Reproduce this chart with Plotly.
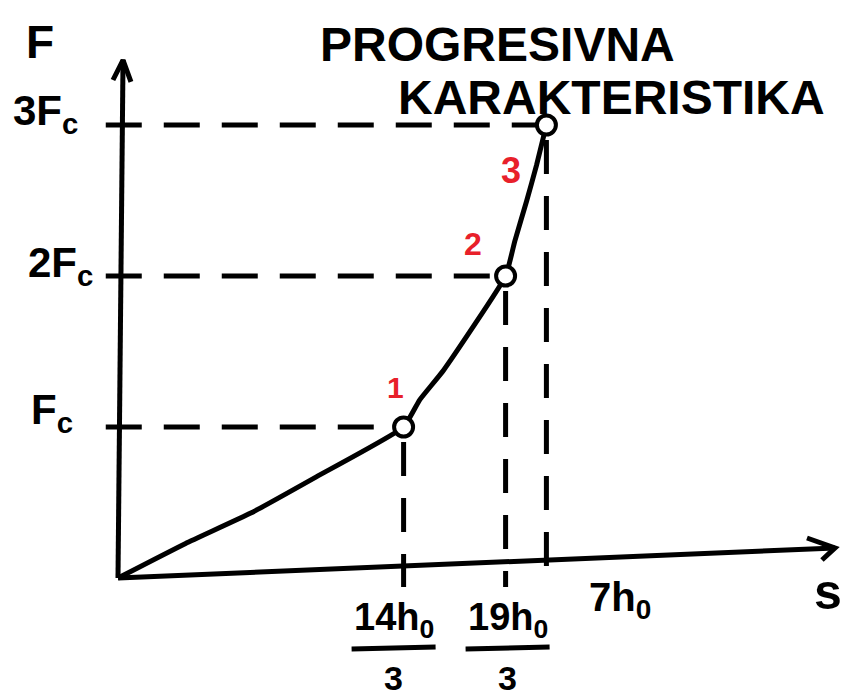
import plotly.graph_objects as go

# Key points of the progressive spring characteristic (s in h0, F in Fc)
s_points = [14 / 3, 19 / 3, 7]
F_points = [1, 2, 3]
point_tags = ["1", "2", "3"]

# Hand-sketched curve through the origin and the three key points
curve_s = [0, 1.105, 2.17, 3.24, 14 / 3, 4.93, 5.32, 19 / 3, 6.484, 6.677, 6.839, 7]
curve_F = [0, 0.229, 0.43, 0.67, 1, 1.18, 1.376, 2, 2.231, 2.497, 2.734, 3]

# Axis tick labels
s_numerators = ["14h<sub>0</sub>", "19h<sub>0</sub>", "7h<sub>0</sub>"]
s_denominators = ["3", "3", ""]
F_labels = ["F<sub>c</sub>", "2F<sub>c</sub>", "3F<sub>c</sub>"]

title_lines = ["PROGRESIVNA", "KARAKTERISTIKA"]

INK = "#000000"
RED = "#e8202a"
FONT = "Liberation Sans"
PX_X = 61.2   # pixels per h0
PX_Y = 151.0  # pixels per Fc
W, H = 848, 700
X0, Y0 = 118, 578  # origin in pixels


def txt(size, color=INK):
    return dict(family=FONT, size=size, color=color, weight="bold")


fig = go.Figure()

# dashed guides from each point to both axes
for s, F in zip(s_points, F_points):
    fig.add_trace(go.Scatter(x=[-0.2, s], y=[F, F], mode="lines",
                             line=dict(color=INK, width=5, dash="36px,22px"),
                             hoverinfo="skip", showlegend=False))
    fig.add_trace(go.Scatter(x=[s, s], y=[F - 0.1, -0.06], mode="lines",
                             line=dict(color=INK, width=5, dash="34px,22px"),
                             hoverinfo="skip", showlegend=False))

# axes with open arrow heads
fig.add_trace(go.Scatter(x=[0, 0.082], y=[0, 3.43], mode="lines",
                         line=dict(color=INK, width=5), hoverinfo="skip", showlegend=False))
fig.add_trace(go.Scatter(x=[-0.082, 0.082, 0.212], y=[3.298, 3.43, 3.285], mode="lines",
                         line=dict(color=INK, width=5), hoverinfo="skip", showlegend=False))
fig.add_trace(go.Scatter(x=[0, 11.716], y=[0, 0.199], mode="lines",
                         line=dict(color=INK, width=5), hoverinfo="skip", showlegend=False))
fig.add_trace(go.Scatter(x=[11.258, 11.716, 11.503], y=[0.265, 0.199, 0.119], mode="lines",
                         line=dict(color=INK, width=5), hoverinfo="skip", showlegend=False))

# characteristic curve
fig.add_trace(go.Scatter(x=curve_s, y=curve_F, mode="lines",
                         line=dict(color=INK, width=5, shape="spline", smoothing=0.4),
                         hoverinfo="skip", showlegend=False))

# key points
fig.add_trace(go.Scatter(x=s_points, y=F_points, mode="markers",
                         marker=dict(symbol="circle", size=19, color="white",
                                     line=dict(color=INK, width=4)),
                         hoverinfo="skip", showlegend=False))

ann = []


def note(**kw):
    kw.setdefault("showarrow", False)
    kw.setdefault("xanchor", "center")
    kw.setdefault("yanchor", "middle")
    ann.append(kw)


# point numbers
tag_shift = [(-8, 40), (-33, 32), (-35, -45)]
tag_size = [30, 32, 36]
for s, F, t, (dx, dy), sz in zip(s_points, F_points, point_tags, tag_shift, tag_size):
    note(x=s, y=F, text=t, xshift=dx, yshift=dy, font=txt(sz, RED))

# F-axis tick labels
F_shift = [(-43, 15), (-23, 11), (-38, 12)]
for F, lab, (dx, dy) in zip(F_points, F_labels, F_shift):
    note(x=0, y=F, text=lab, xanchor="right", xshift=dx, yshift=dy, font=txt(42))

# s-axis tick labels (fractions)
label_dx = [-10, 2, 74]
shapes = []
for s, num, den, dx in zip(s_points, s_numerators, s_denominators, label_dx):
    if den:
        note(x=s, y=0, text=num, xshift=dx, yshift=-42, font=txt(38))
        note(x=s, y=0, text=den, xshift=dx, yshift=-100, font=txt(34))
        shapes.append(dict(type="line", xref="x", yref="y",
                           x0=s + (dx - 42) / PX_X, x1=s + (dx + 42) / PX_X,
                           y0=-71 / PX_Y, y1=-69 / PX_Y,
                           line=dict(color=INK, width=5)))
    else:
        note(x=s, y=0, text=num, xshift=dx, yshift=-22, font=txt(40))

# axis names
note(xref="paper", yref="paper", x=40 / W, y=1 - 42 / H, text="F", font=txt(46))
note(xref="paper", yref="paper", x=828 / W, y=1 - 592 / H, text="s", font=txt(50))

# heading
note(xref="paper", yref="paper", x=497 / W, y=1 - 45 / H, text=title_lines[0], font=txt(48))
note(xref="paper", yref="paper", x=611 / W, y=1 - 97 / H, text=title_lines[1], font=txt(48))

fig.update_layout(
    width=W, height=H,
    margin=dict(l=0, r=0, t=0, b=0),
    paper_bgcolor="white", plot_bgcolor="white",
    xaxis=dict(range=[-X0 / PX_X, (W - X0) / PX_X], visible=False, fixedrange=True),
    yaxis=dict(range=[-(H - Y0) / PX_Y, Y0 / PX_Y], visible=False, fixedrange=True),
    annotations=ann, shapes=shapes,
)

fig.write_html("out.html")
